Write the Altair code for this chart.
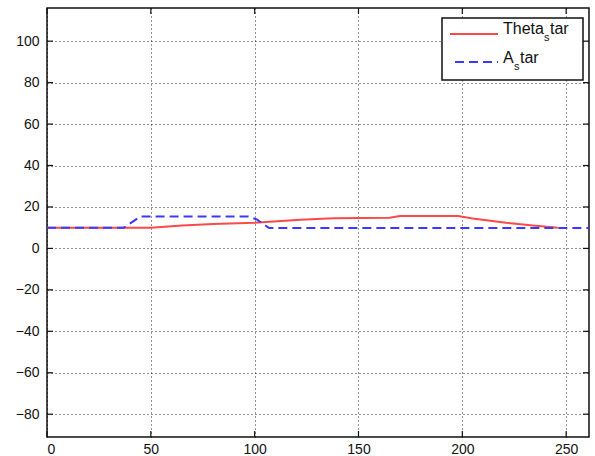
import altair as alt
import pandas as pd

# ---- data ----
theta_x = [0, 50, 65, 80, 100, 122, 138, 165, 170, 198, 205, 221, 234, 246]
theta_y = [10, 10, 11, 11.8, 12.4, 13.8, 14.6, 14.8, 15.6, 15.6, 14.4, 12.4, 11.1, 10]
a_x = [0, 37, 45, 97, 101, 107, 261]
a_y = [10, 10, 15.4, 15.4, 14, 9.8, 9.8]
x_ticks = [0, 50, 100, 150, 200, 250]
y_ticks = [-80, -60, -40, -20, 0, 20, 40, 60, 80, 100]
x_domain = [0, 261]
y_domain = [-91, 116]

W, H = 542, 429
FONT = "Liberation Sans"
RED = "#ff4848"
BLUE = "#3a3aff"

theta_df = pd.DataFrame({"x": theta_x, "y": theta_y})
a_df = pd.DataFrame({"x": a_x, "y": a_y})
xt_df = pd.DataFrame({"x": x_ticks})
yt_df = pd.DataFrame({"y": y_ticks})

xs = alt.Scale(domain=x_domain, nice=False, zero=False)
ys = alt.Scale(domain=y_domain, nice=False, zero=False)

grid_axis = dict(
    grid=True, gridColor="#000000", gridDash=[1, 3], gridWidth=1, gridOpacity=0.85,
    ticks=False, tickSize=0, domain=False, title=None,
    labelFont=FONT, labelFontSize=14, labelColor="#111111",
)

theta_line = alt.Chart(theta_df).mark_line(color=RED, strokeWidth=2).encode(
    x=alt.X("x:Q", scale=xs, axis=alt.Axis(values=x_ticks, labelPadding=5, **grid_axis)),
    y=alt.Y("y:Q", scale=ys, axis=alt.Axis(values=y_ticks, labelPadding=8, **grid_axis)),
)
a_line = alt.Chart(a_df).mark_line(color=BLUE, strokeWidth=2, strokeDash=[9, 5]).encode(
    x=alt.X("x:Q", scale=xs),
    y=alt.Y("y:Q", scale=ys),
)

# inward ticks on all four sides
tick_style = dict(color="#111111", strokeWidth=1.2)
xt_bottom = alt.Chart(xt_df).mark_rule(**tick_style).encode(
    x=alt.X("x:Q", scale=xs), y=alt.value(H), y2=alt.value(H - 6))
xt_top = alt.Chart(xt_df).mark_rule(**tick_style).encode(
    x=alt.X("x:Q", scale=xs), y=alt.value(0), y2=alt.value(6))
yt_left = alt.Chart(yt_df).mark_rule(**tick_style).encode(
    y=alt.Y("y:Q", scale=ys), x=alt.value(0), x2=alt.value(6))
yt_right = alt.Chart(yt_df).mark_rule(**tick_style).encode(
    y=alt.Y("y:Q", scale=ys), x=alt.value(W), x2=alt.value(W - 6))

# custom legend (MATLAB style, with subscript s)
one = pd.DataFrame({"k": [0]})
leg_box = alt.Chart(one).mark_rect(fill="white", stroke="#111111", strokeWidth=1.5).encode(
    x=alt.value(395), x2=alt.value(536), y=alt.value(10), y2=alt.value(72))
leg_red = alt.Chart(one).mark_rule(color=RED, strokeWidth=2).encode(
    x=alt.value(403), x2=alt.value(451), y=alt.value(26))
leg_blue = alt.Chart(one).mark_rule(color=BLUE, strokeWidth=2, strokeDash=[9, 5]).encode(
    x=alt.value(408), x2=alt.value(451), y=alt.value(54))

def txt(s, x, y, size):
    return alt.Chart(one).mark_text(
        text=s, align="left", baseline="alphabetic", font=FONT, fontSize=size, color="#111111"
    ).encode(x=alt.value(x), y=alt.value(y))

legend_texts = [
    txt("Theta", 456, 26, 16), txt("s", 497, 33, 11), txt("tar", 503, 26, 16),
    txt("A", 456, 55, 16), txt("s", 467, 62, 11), txt("tar", 473, 55, 16),
]

chart = alt.layer(
    theta_line, a_line, xt_bottom, xt_top, yt_left, yt_right,
    leg_box, leg_red, leg_blue, *legend_texts
).properties(
    width=W, height=H,
    autosize=alt.AutoSizeParams(type="none"),
    padding={"left": 47, "top": 8, "right": 6, "bottom": 19},
    background="white",
).configure_view(stroke="#111111", strokeWidth=1.5)

chart.save("out.html", embed_options={"renderer": "svg", "actions": False})
